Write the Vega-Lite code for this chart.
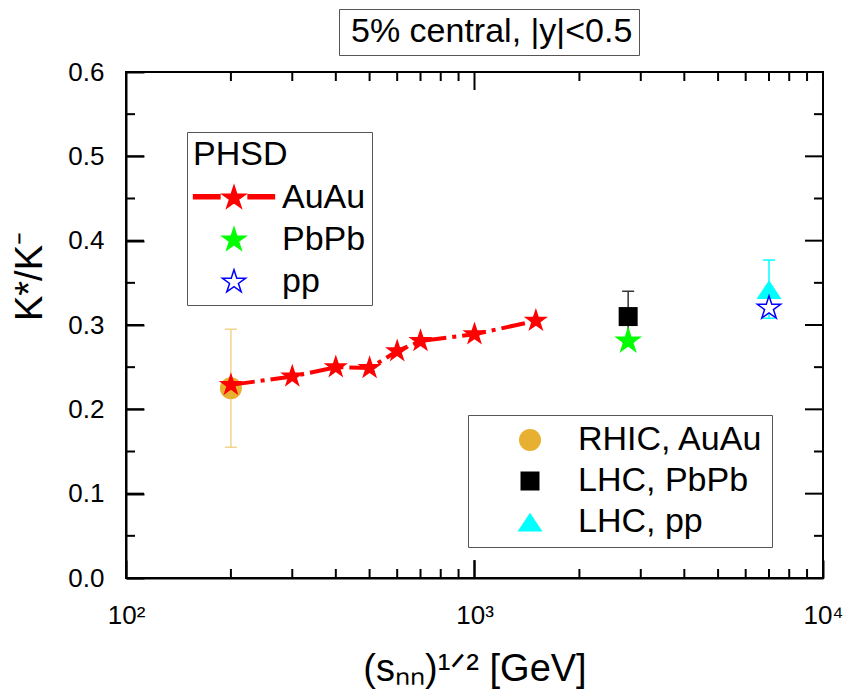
{
  "$schema": "https://vega.github.io/schema/vega-lite/v6.json",
  "width": 697,
  "height": 506,
  "autosize": {"type": "none"},
  "padding": {"left": 126, "top": 72, "right": 21, "bottom": 113},
  "view": {"stroke": "black", "strokeWidth": 2},
  "datasets": {
    "exp": [
      {"s": 200, "r": 0.225, "lo": 0.155, "hi": 0.295, "exp": "RHIC, AuAu"},
      {"s": 2760, "r": 0.31, "lo": 0.28, "hi": 0.34, "exp": "LHC, PbPb"},
      {"s": 7000, "r": 0.342, "lo": 0.308, "hi": 0.377, "exp": "LHC, pp"}
    ],
    "auau": [
      {"s": 200, "r": 0.229, "model": "AuAu", "note": "5% central, |y|<0.5"},
      {"s": 300, "r": 0.239, "model": "AuAu", "note": "5% central, |y|<0.5"},
      {"s": 400, "r": 0.25, "model": "AuAu", "note": "5% central, |y|<0.5"},
      {"s": 500, "r": 0.249, "model": "AuAu", "note": "5% central, |y|<0.5"},
      {"s": 600, "r": 0.269, "model": "AuAu", "note": "5% central, |y|<0.5"},
      {"s": 700, "r": 0.281, "model": "AuAu", "note": "5% central, |y|<0.5"},
      {"s": 1000, "r": 0.289, "model": "AuAu", "note": "5% central, |y|<0.5"},
      {"s": 1500, "r": 0.305, "model": "AuAu", "note": "5% central, |y|<0.5"}
    ],
    "other": [
      {"s": 2760, "r": 0.281, "model": "PbPb"},
      {"s": 7000, "r": 0.32, "model": "pp"}
    ],
    "xmaj": [{"s": 100}, {"s": 1000}, {"s": 10000}],
    "xmin": [{"s": 200}, {"s": 300}, {"s": 400}, {"s": 500}, {"s": 600}, {"s": 700}, {"s": 800}, {"s": 900}, {"s": 2000}, {"s": 3000}, {"s": 4000}, {"s": 5000}, {"s": 6000}, {"s": 7000}, {"s": 8000}, {"s": 9000}],
    "ymaj": [{"v": 0}, {"v": 0.1}, {"v": 0.2}, {"v": 0.3}, {"v": 0.4}, {"v": 0.5}, {"v": 0.6}],
    "ymin": [{"v": 0.05}, {"v": 0.15}, {"v": 0.25}, {"v": 0.35}, {"v": 0.45}, {"v": 0.55}]
  },
  "layer": [
    {
      "data": {"name": "ymaj"},
      "mark": {"type": "tick", "orient": "horizontal", "size": 18, "thickness": 2, "color": "black", "opacity": 1, "xOffset": 9},
      "encoding": {
        "x": {"datum": 100, "type": "quantitative", "scale": {"type": "log", "domain": [100, 10000], "nice": false}, "axis": null},
        "y": {"field": "v", "type": "quantitative", "scale": {"domain": [0, 0.6], "nice": false}, "axis": null}
      }
    },
    {
      "data": {"name": "ymaj"},
      "mark": {"type": "tick", "orient": "horizontal", "size": 18, "thickness": 2, "color": "black", "opacity": 1, "xOffset": -9},
      "encoding": {
        "x": {"datum": 10000, "type": "quantitative", "scale": {"type": "log", "domain": [100, 10000], "nice": false}, "axis": null},
        "y": {"field": "v", "type": "quantitative", "scale": {"domain": [0, 0.6], "nice": false}, "axis": null}
      }
    },
    {
      "data": {"name": "ymin"},
      "mark": {"type": "tick", "orient": "horizontal", "size": 9, "thickness": 2, "color": "black", "opacity": 1, "xOffset": 4.5},
      "encoding": {
        "x": {"datum": 100, "type": "quantitative", "scale": {"type": "log", "domain": [100, 10000], "nice": false}, "axis": null},
        "y": {"field": "v", "type": "quantitative", "scale": {"domain": [0, 0.6], "nice": false}, "axis": null}
      }
    },
    {
      "data": {"name": "ymin"},
      "mark": {"type": "tick", "orient": "horizontal", "size": 9, "thickness": 2, "color": "black", "opacity": 1, "xOffset": -4.5},
      "encoding": {
        "x": {"datum": 10000, "type": "quantitative", "scale": {"type": "log", "domain": [100, 10000], "nice": false}, "axis": null},
        "y": {"field": "v", "type": "quantitative", "scale": {"domain": [0, 0.6], "nice": false}, "axis": null}
      }
    },
    {
      "data": {"name": "xmaj"},
      "mark": {"type": "tick", "orient": "vertical", "size": 18, "thickness": 2, "color": "black", "opacity": 1, "yOffset": -9},
      "encoding": {
        "x": {"field": "s", "type": "quantitative", "scale": {"type": "log", "domain": [100, 10000], "nice": false}, "axis": null},
        "y": {"datum": 0, "type": "quantitative", "scale": {"domain": [0, 0.6], "nice": false}, "axis": null}
      }
    },
    {
      "data": {"name": "xmaj"},
      "mark": {"type": "tick", "orient": "vertical", "size": 18, "thickness": 2, "color": "black", "opacity": 1, "yOffset": 9},
      "encoding": {
        "x": {"field": "s", "type": "quantitative", "scale": {"type": "log", "domain": [100, 10000], "nice": false}, "axis": null},
        "y": {"datum": 0.6, "type": "quantitative", "scale": {"domain": [0, 0.6], "nice": false}, "axis": null}
      }
    },
    {
      "data": {"name": "xmin"},
      "mark": {"type": "tick", "orient": "vertical", "size": 9, "thickness": 2, "color": "black", "opacity": 1, "yOffset": -4.5},
      "encoding": {
        "x": {"field": "s", "type": "quantitative", "scale": {"type": "log", "domain": [100, 10000], "nice": false}, "axis": null},
        "y": {"datum": 0, "type": "quantitative", "scale": {"domain": [0, 0.6], "nice": false}, "axis": null}
      }
    },
    {
      "data": {"name": "xmin"},
      "mark": {"type": "tick", "orient": "vertical", "size": 9, "thickness": 2, "color": "black", "opacity": 1, "yOffset": 4.5},
      "encoding": {
        "x": {"field": "s", "type": "quantitative", "scale": {"type": "log", "domain": [100, 10000], "nice": false}, "axis": null},
        "y": {"datum": 0.6, "type": "quantitative", "scale": {"domain": [0, 0.6], "nice": false}, "axis": null}
      }
    },
    {
      "data": {"name": "exp"},
      "mark": {"type": "rule", "strokeWidth": 1.5},
      "encoding": {
        "x": {"field": "s", "type": "quantitative", "scale": {"type": "log", "domain": [100, 10000], "nice": false},
          "axis": {"orient": "bottom", "gridOpacity": 0, "domainColor": "black", "domainWidth": 2, "tickColor": "black", "tickWidth": 2, "tickSize": -18, "values": [100, 1000, 10000], "labelExpr": "datum.value == 100 ? '10²' : datum.value == 1000 ? '10³' : '10⁴'", "labelFont": "Liberation Sans", "labelColor": "black", "labelFontSize": 26, "labelPadding": 42, "labelFlush": false, "labelOverlap": false, "labelBound": false, "title": "(sₙₙ)¹ᐟ² [GeV]", "titleFont": "Liberation Sans", "titleColor": "black", "titleFontSize": 38, "titleFontWeight": "normal", "titleY": 91, "titleBaseline": "middle"}},
        "y": {"field": "lo", "type": "quantitative", "scale": {"domain": [0, 0.6], "nice": false},
          "axis": {"orient": "left", "gridOpacity": 0, "domainColor": "black", "domainWidth": 2, "tickColor": "black", "tickWidth": 2, "tickSize": -18, "values": [0, 0.1, 0.2, 0.3, 0.4, 0.5, 0.6], "format": ".1f", "labelFont": "Liberation Sans", "labelColor": "black", "labelFontSize": 26, "labelPadding": 40, "labelOverlap": false, "labelBound": false, "labelFlush": false, "title": "K*/K⁻", "titleFont": "Liberation Sans", "titleColor": "black", "titleFontSize": 38, "titleFontWeight": "normal", "titleAngle": 270, "titleX": -96, "titleY": 204, "titleAlign": "center", "titleBaseline": "middle"}},
        "y2": {"field": "hi"},
        "color": {"field": "exp", "type": "nominal", "scale": {"domain": ["RHIC, AuAu", "LHC, PbPb", "LHC, pp"], "range": ["#F3D28C", "#333333", "#00FFFF"]}, "legend": null}
      }
    },
    {
      "data": {"name": "exp"},
      "mark": {"type": "tick", "orient": "horizontal", "size": 12, "thickness": 1.5, "opacity": 1},
      "encoding": {
        "x": {"field": "s", "type": "quantitative", "scale": {"type": "log", "domain": [100, 10000], "nice": false}, "axis": null},
        "y": {"field": "hi", "type": "quantitative", "scale": {"domain": [0, 0.6], "nice": false}, "axis": null},
        "color": {"field": "exp", "type": "nominal", "scale": {"domain": ["RHIC, AuAu", "LHC, PbPb", "LHC, pp"], "range": ["#F3D28C", "#333333", "#00FFFF"]}, "legend": null}
      }
    },
    {
      "data": {"name": "exp"},
      "mark": {"type": "tick", "orient": "horizontal", "size": 12, "thickness": 1.5, "opacity": 1},
      "encoding": {
        "x": {"field": "s", "type": "quantitative", "scale": {"type": "log", "domain": [100, 10000], "nice": false}, "axis": null},
        "y": {"field": "lo", "type": "quantitative", "scale": {"domain": [0, 0.6], "nice": false}, "axis": null},
        "color": {"field": "exp", "type": "nominal", "scale": {"domain": ["RHIC, AuAu", "LHC, PbPb", "LHC, pp"], "range": ["#F3D28C", "#333333", "#00FFFF"]}, "legend": null}
      }
    },
    {
      "data": {"name": "exp"},
      "mark": {"type": "point", "filled": true, "opacity": 1, "strokeWidth": 0},
      "encoding": {
        "x": {"field": "s", "type": "quantitative", "scale": {"type": "log", "domain": [100, 10000], "nice": false}, "axis": null},
        "y": {"field": "r", "type": "quantitative", "scale": {"domain": [0, 0.6], "nice": false}, "axis": null},
        "shape": {"field": "exp", "type": "nominal", "scale": {"domain": ["RHIC, AuAu", "LHC, PbPb", "LHC, pp"], "range": ["circle", "square", "M0,-0.75L1,0.75L-1,0.75Z"]},
          "legend": {"title": null, "orient": "none", "legendX": 342, "legendY": 343, "labelFont": "Liberation Sans", "labelColor": "black", "labelLimit": 500, "labelFontSize": 34, "padding": 8, "rowPadding": 7, "symbolOffset": 37, "labelOffset": 31, "strokeColor": "#555555", "fillColor": "white", "symbolStrokeWidth": 0}},
        "fill": {"field": "exp", "type": "nominal", "scale": {"domain": ["RHIC, AuAu", "LHC, PbPb", "LHC, pp"], "range": ["#E8B030", "#000000", "#00FFFF"]},
          "legend": {"title": null, "orient": "none", "legendX": 342, "legendY": 343, "labelFont": "Liberation Sans", "labelColor": "black", "labelLimit": 500, "labelFontSize": 34, "padding": 8, "rowPadding": 7, "symbolOffset": 37, "labelOffset": 31, "strokeColor": "#555555", "fillColor": "white", "symbolStrokeWidth": 0}},
        "size": {"field": "exp", "type": "ordinal", "scale": {"type": "ordinal", "domain": ["RHIC, AuAu", "LHC, PbPb", "LHC, pp"], "range": [484, 361, 625]},
          "legend": {"title": null, "orient": "none", "legendX": 342, "legendY": 343, "labelFont": "Liberation Sans", "labelColor": "black", "labelLimit": 500, "labelFontSize": 34, "padding": 8, "rowPadding": 7, "symbolOffset": 37, "labelOffset": 31, "strokeColor": "#555555", "fillColor": "white", "symbolStrokeWidth": 0}}
      }
    },
    {
      "data": {"name": "auau"},
      "mark": {"type": "line", "color": "#FF0000", "strokeWidth": 4},
      "encoding": {
        "x": {"field": "s", "type": "quantitative", "scale": {"type": "log", "domain": [100, 10000], "nice": false}, "axis": null},
        "y": {"field": "r", "type": "quantitative", "scale": {"domain": [0, 0.6], "nice": false}, "axis": null},
        "strokeDash": {"field": "note", "type": "nominal", "scale": {"domain": ["5% central, |y|<0.5"], "range": [[24, 6, 4, 6]]},
          "legend": {"title": null, "orient": "none", "legendX": 213, "legendY": -63, "labelFont": "Liberation Sans", "labelColor": "black", "labelLimit": 500, "labelFontSize": 34, "padding": 6, "symbolType": "circle", "symbolSize": 0, "symbolOpacity": 0, "symbolStrokeWidth": 0, "labelOffset": -28, "strokeColor": "#555555", "fillColor": "white"}}
      }
    },
    {
      "data": {"name": "auau"},
      "mark": {"type": "point", "filled": true, "opacity": 1, "color": "#FF0000", "strokeWidth": 0, "size": 650, "shape": "M0,-1L0.225,-0.309L0.951,-0.309L0.363,0.118L0.588,0.809L0,0.382L-0.588,0.809L-0.363,0.118L-0.951,-0.309L-0.225,-0.309Z"},
      "encoding": {
        "x": {"field": "s", "type": "quantitative", "scale": {"type": "log", "domain": [100, 10000], "nice": false}, "axis": null},
        "y": {"field": "r", "type": "quantitative", "scale": {"domain": [0, 0.6], "nice": false}, "axis": null}
      }
    },
    {
      "data": {"name": "other"},
      "mark": {"type": "point", "filled": true, "opacity": 1, "strokeWidth": 1.5, "size": 600},
      "encoding": {
        "x": {"field": "s", "type": "quantitative", "scale": {"type": "log", "domain": [100, 10000], "nice": false}, "axis": null},
        "y": {"field": "r", "type": "quantitative", "scale": {"domain": [0, 0.6], "nice": false}, "axis": null},
        "shape": {"field": "model", "type": "nominal", "scale": {"domain": ["AuAu", "PbPb", "pp"], "range": [
          "M-3.3,-0.27L-1.15,-0.27L-1.15,0.07L-3.3,0.07ZM1.15,-0.27L3.3,-0.27L3.3,0.07L1.15,0.07ZM0,-1L0.225,-0.309L0.951,-0.309L0.363,0.118L0.588,0.809L0,0.382L-0.588,0.809L-0.363,0.118L-0.951,-0.309L-0.225,-0.309Z",
          "M0,-1L0.225,-0.309L0.951,-0.309L0.363,0.118L0.588,0.809L0,0.382L-0.588,0.809L-0.363,0.118L-0.951,-0.309L-0.225,-0.309Z",
          "M0,-1L0.225,-0.309L0.951,-0.309L0.363,0.118L0.588,0.809L0,0.382L-0.588,0.809L-0.363,0.118L-0.951,-0.309L-0.225,-0.309Z"]},
          "legend": {"title": "PHSD", "titleFont": "Liberation Sans", "titleColor": "black", "titleFontSize": 34, "titleFontWeight": "normal", "titlePadding": 9, "orient": "none", "legendX": 61, "legendY": 60, "labelFont": "Liberation Sans", "labelColor": "black", "labelLimit": 500, "labelFontSize": 34, "padding": 6, "rowPadding": 8, "symbolSize": 600, "symbolStrokeWidth": 1.5, "symbolOffset": 24, "labelOffset": 31, "strokeColor": "#555555", "fillColor": "white"}},
        "fill": {"field": "model", "type": "nominal", "scale": {"domain": ["AuAu", "PbPb", "pp"], "range": ["#FF0000", "#00FF00", "#FFFFFF"]},
          "legend": {"title": "PHSD", "titleFont": "Liberation Sans", "titleColor": "black", "titleFontSize": 34, "titleFontWeight": "normal", "titlePadding": 9, "orient": "none", "legendX": 61, "legendY": 60, "labelFont": "Liberation Sans", "labelColor": "black", "labelLimit": 500, "labelFontSize": 34, "padding": 6, "rowPadding": 8, "symbolSize": 600, "symbolStrokeWidth": 1.5, "symbolOffset": 24, "labelOffset": 31, "strokeColor": "#555555", "fillColor": "white"}},
        "stroke": {"field": "model", "type": "nominal", "scale": {"domain": ["AuAu", "PbPb", "pp"], "range": ["#FF0000", "#00FF00", "#0000FF"]},
          "legend": {"title": "PHSD", "titleFont": "Liberation Sans", "titleColor": "black", "titleFontSize": 34, "titleFontWeight": "normal", "titlePadding": 9, "orient": "none", "legendX": 61, "legendY": 60, "labelFont": "Liberation Sans", "labelColor": "black", "labelLimit": 500, "labelFontSize": 34, "padding": 6, "rowPadding": 8, "symbolSize": 600, "symbolStrokeWidth": 1.5, "symbolOffset": 24, "labelOffset": 31, "strokeColor": "#555555", "fillColor": "white"}}
      }
    }
  ],
  "resolve": {
    "scale": {"color": "independent", "shape": "independent", "fill": "independent", "stroke": "independent", "size": "independent", "strokeDash": "independent"},
    "axis": {"x": "independent", "y": "independent"}
  }
}
